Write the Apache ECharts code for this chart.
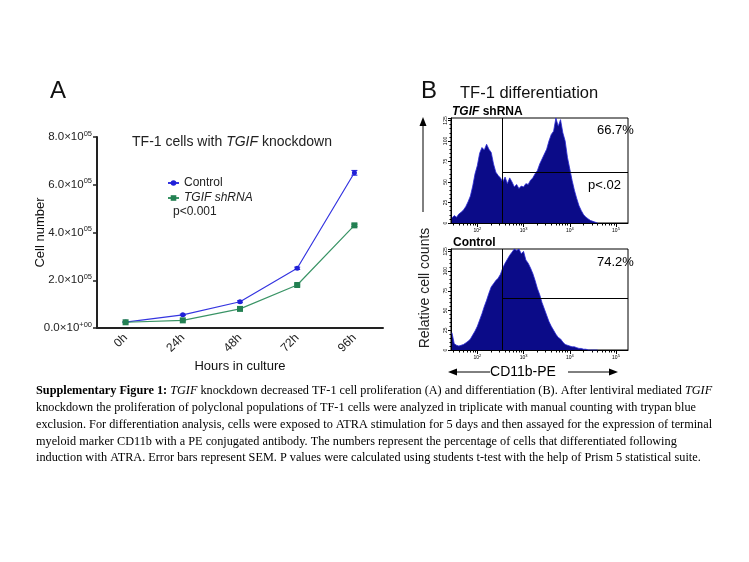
<!DOCTYPE html>
<html><head><meta charset="utf-8">
<script src="https://cdn.jsdelivr.net/npm/echarts@6/dist/echarts.min.js"></script>
<style>html,body{margin:0;padding:0;background:#fff}#c{width:749px;height:562px}</style>
</head><body><div id="c"></div>
<script>
// ---------- Panel A data ----------
const hours = ['0h', '24h', '48h', '72h', '96h'];
const controlMean = [25000, 55000, 110000, 250000, 650000];
const controlSem = [2000, 3000, 4000, 5000, 10000];
const tgifMean = [24000, 32000, 80000, 180000, 430000];
const tgifSem = [2000, 2000, 5000, 4000, 5000];
const yTickValues = [0, 200000, 400000, 600000, 800000];
const yMantissa = ['0.0', '2.0', '4.0', '6.0', '8.0'];
const yExponent = ['+00', '05', '05', '05', '05'];

// ---------- Panel B data (log10 of CD11b-PE fluorescence, cell counts) ----------
const binLog = [1.45,1.50,1.55,1.60,1.65,1.70,1.75,1.80,1.85,1.90,1.95,2.00,2.05,2.10,2.15,2.20,2.25,2.30,2.35,2.40,
  2.45,2.50,2.55,2.60,2.65,2.70,2.75,2.80,2.85,2.90,2.95,3.00,3.05,3.10,3.15,3.20,3.25,3.30,3.35,3.40,
  3.45,3.50,3.55,3.60,3.65,3.70,3.75,3.80,3.85,3.90,3.95,4.00,4.05,4.10,4.15,4.20,4.25,4.30,4.35,4.40,
  4.45,4.50,4.55,4.60];
const shrnaCounts = [6,9,7,11,13,16,20,26,33,45,60,70,85,92,89,96,90,86,72,62,
  58,55,50,56,48,55,50,44,47,42,45,44,48,47,52,55,60,64,72,78,
  84,90,100,108,112,128,118,126,110,100,80,66,52,40,30,21,15,10,7,5,
  3,2,1,0];
const controlCounts = [22,8,6,5,6,7,9,11,14,19,24,30,38,46,55,63,72,80,84,88,
  91,96,104,110,115,120,124,128,126,128,122,125,114,110,104,97,88,78,70,60,
  52,44,36,30,25,20,16,14,10,7,6,5,4,4,3,2,2,1,1,0,
  0,0,0,0];
const decades = [2, 3, 4, 5];
const decadeLabels = ['2', '3', '4', '5'];
const histYTicks = [0, 25, 50, 75, 100, 125];
const gateLog = 2.54;
const shrnaGateCount = 62;
const controlGateCount = 65;
const shrnaPercent = '66.7%';
const controlPercent = '74.2%';
const pValueB = 'p<.02';
const pValueA = 'p<0.001';

const SANS = 'Liberation Sans, Arial, Helvetica, sans-serif';
const SERIF = 'Liberation Serif, Times New Roman, serif';

const minorLogs = [];
for (let n = 1; n <= 5; n++) for (let k = 2; k <= 9; k++) {
  const v = Math.log10(k * Math.pow(10, n));
  if (v > 1.43 && v < 5.26) minorLogs.push(v);
}

const chart = echarts.init(document.getElementById('c'), null, {renderer: 'canvas'});

function errorBarSeries(means, sems, color) {
  return {
    type: 'custom', xAxisIndex: 0, yAxisIndex: 0, z: 3, silent: true,
    data: means.map((m, i) => [i, m, sems[i]]),
    renderItem: function (params, api) {
      const i = api.value(0), m = api.value(1), s = api.value(2);
      const hi = api.coord([i, m + s]), lo = api.coord([i, m - s]);
      const w = 3;
      return {type: 'group', children: [
        {type: 'line', shape: {x1: hi[0], y1: hi[1], x2: lo[0], y2: lo[1]}, style: {stroke: color, lineWidth: 1}},
        {type: 'line', shape: {x1: hi[0] - w, y1: hi[1], x2: hi[0] + w, y2: hi[1]}, style: {stroke: color, lineWidth: 1}},
        {type: 'line', shape: {x1: lo[0] - w, y1: lo[1], x2: lo[0] + w, y2: lo[1]}, style: {stroke: color, lineWidth: 1}}
      ]};
    }
  };
}

function histSeries(counts, xIdx, yIdx, gateCount) {
  return {
    type: 'line', xAxisIndex: xIdx, yAxisIndex: yIdx, symbol: 'none', silent: true,
    data: binLog.map((l, i) => [l, counts[i]]),
    lineStyle: {color: '#2a2ad6', width: 0.8},
    areaStyle: {color: '#0b0b88', opacity: 1},
    clip: true,
    markLine: {
      silent: true, symbol: 'none', animation: false,
      lineStyle: {color: '#000', width: 1, type: 'solid'},
      label: {show: false},
      data: [
        [{coord: [gateLog, 0]}, {coord: [gateLog, 128]}],
        [{coord: [gateLog, gateCount]}, {coord: [5.26, gateCount]}]
      ]
    },
    markPoint: {
      silent: true, symbol: 'none', animation: false,
      label: {show: true, formatter: 'P5', fontSize: 5, color: '#000', fontFamily: SANS, position: 'inside'},
      data: [{coord: [4.24, gateCount]}]
    }
  };
}

function histXAxis(gridIndex) {
  return [{
    type: 'value', gridIndex: gridIndex, min: 1.43, max: 5.26, position: 'bottom',
    axisLine: {show: true, onZero: false, lineStyle: {color: '#000', width: 1}},
    splitLine: {show: false},
    axisTick: {show: true, customValues: decades, length: 4, lineStyle: {color: '#000'}},
    axisLabel: {
      show: true, customValues: decades, margin: 4, fontSize: 5, color: '#000', fontFamily: SANS,
      formatter: v => '{b|10}{s|' + decadeLabels[decades.indexOf(Math.round(v))] + '}',
      rich: {b: {fontSize: 5, fontFamily: SANS}, s: {fontSize: 4, fontFamily: SANS, padding: [0, 0, 4, 0]}}
    }
  }, {
    type: 'value', gridIndex: gridIndex, min: 1.43, max: 5.26, position: 'bottom',
    axisLine: {show: false, onZero: false},
    splitLine: {show: false},
    axisTick: {show: true, customValues: minorLogs, length: 2.5, lineStyle: {color: '#000'}},
    axisLabel: {show: false}
  }];
}

function histYAxis(gridIndex) {
  return {
    type: 'value', gridIndex: gridIndex, min: 0, max: 128, interval: 25,
    axisLine: {show: true, lineStyle: {color: '#000', width: 1}},
    axisTick: {show: true, length: 3, lineStyle: {color: '#000'}},
    minorTick: {show: true, splitNumber: 5, length: 1.5, lineStyle: {color: '#000'}},
    splitLine: {show: false},
    axisLabel: {show: true, rotate: 90, fontSize: 5, color: '#000', margin: 3, fontFamily: SANS,
      formatter: v => histYTicks.indexOf(v) >= 0 ? String(v) : ''}
  };
}

function txt(x, y, text, opts) {
  return {type: 'text', x: x, y: y, silent: true,
    style: Object.assign({text: text, fill: '#111', fontFamily: SANS, fontSize: 13}, opts || {})};
}

const CAP = 12.25;
const captionRich = {
  b: {fontWeight: 'bold', fontFamily: SERIF, fontSize: CAP, fill: '#000'},
  i: {fontStyle: 'italic', fontFamily: SERIF, fontSize: CAP, fill: '#000'},
  n: {fontFamily: SERIF, fontSize: CAP, fill: '#000'}
};
const captionLines = [
  '{b|Supplementary Figure 1:} {i|TGIF}{n| knockdown decreased TF-1 cell proliferation (A) and differentiation (B). After lentiviral mediated }{i|TGIF}',
  '{n|knockdown the proliferation of polyclonal populations of TF-1 cells were analyzed in triplicate with manual counting with trypan blue}',
  '{n|exclusion. For differentiation analysis, cells were exposed to ATRA stimulation for 5 days and then assayed for the expression of terminal}',
  '{n|myeloid marker CD11b with a PE conjugated antibody. The numbers represent the percentage of cells that differentiated following}',
  '{n|induction with ATRA. Error bars represent SEM. P values were calculated using students t-test with the help of Prism 5 statistical suite.}'
];

const graphics = [
  txt(50, 79, 'A', {fontSize: 24}),
  txt(232, 142, '{n|TF-1 cells with }{i|TGIF}{n| knockdown}', {align: 'center', verticalAlign: 'middle',
    rich: {n: {fontSize: 14, fontFamily: SANS, fill: '#222'}, i: {fontSize: 14, fontFamily: SANS, fontStyle: 'italic', fill: '#222'}}}),
  txt(173, 212, pValueA, {fontSize: 12, verticalAlign: 'middle', fill: '#222'}),
  txt(421, 79, 'B', {fontSize: 24}),
  txt(460, 93, 'TF-1 differentiation', {fontSize: 16.5, verticalAlign: 'middle'}),
  txt(452, 112, '{i|TGIF}{b| shRNA}', {verticalAlign: 'middle',
    rich: {i: {fontSize: 12, fontFamily: SANS, fontWeight: 'bold', fontStyle: 'italic', fill: '#000'},
           b: {fontSize: 12, fontFamily: SANS, fontWeight: 'bold', fill: '#000'}}}),
  txt(453, 243, 'Control', {fontSize: 12, fontWeight: 'bold', verticalAlign: 'middle', fill: '#000'}),
  txt(597, 130, shrnaPercent, {fontSize: 13, verticalAlign: 'middle', fill: '#000'}),
  txt(588, 185, pValueB, {fontSize: 13, verticalAlign: 'middle', fill: '#000'}),
  txt(597, 262, controlPercent, {fontSize: 13, verticalAlign: 'middle', fill: '#000'}),
  {type: 'text', x: 425, y: 288, rotation: Math.PI / 2, silent: true,
    style: {text: 'Relative cell counts', fontSize: 14, fontFamily: SANS, fill: '#222', align: 'center', verticalAlign: 'middle'}},
  txt(523, 372, 'CD11b-PE', {fontSize: 14, align: 'center', verticalAlign: 'middle', fill: '#000'}),
  // arrows
  {type: 'line', silent: true, shape: {x1: 423, y1: 212, x2: 423, y2: 124}, style: {stroke: '#000', lineWidth: 1}},
  {type: 'polygon', silent: true, shape: {points: [[423, 117], [419.5, 126], [426.5, 126]]}, style: {fill: '#000'}},
  {type: 'line', silent: true, shape: {x1: 490, y1: 372, x2: 455, y2: 372}, style: {stroke: '#000', lineWidth: 1}},
  {type: 'polygon', silent: true, shape: {points: [[448, 372], [457, 368.5], [457, 375.5]]}, style: {fill: '#000'}},
  {type: 'line', silent: true, shape: {x1: 568, y1: 372, x2: 611, y2: 372}, style: {stroke: '#000', lineWidth: 1}},
  {type: 'polygon', silent: true, shape: {points: [[618, 372], [609, 368.5], [609, 375.5]]}, style: {fill: '#000'}}
];
captionLines.forEach((line, i) => {
  graphics.push({type: 'text', x: 36, y: 391 + i * 16.8, silent: true,
    style: {text: line, rich: captionRich, verticalAlign: 'middle', fontFamily: SERIF, fontSize: CAP, fill: '#000'}});
});

const option = {
  animation: false,
  backgroundColor: '#fff',
  grid: [
    {left: 97, top: 137, width: 286, height: 191},
    {left: 451, top: 118, width: 177, height: 105, show: true, borderColor: '#000', borderWidth: 1, backgroundColor: 'transparent'},
    {left: 451, top: 249, width: 177, height: 101, show: true, borderColor: '#000', borderWidth: 1, backgroundColor: 'transparent'}
  ],
  legend: {
    orient: 'vertical', left: 162, top: 172, itemGap: 3, itemWidth: 11, itemHeight: 7,
    data: ['Control', 'TGIF shRNA'],
    textStyle: {fontSize: 12, fontFamily: SANS, color: '#222', rich: {i: {fontStyle: 'italic', fontSize: 12, fontFamily: SANS, color: '#222'}}},
    formatter: name => name === 'TGIF shRNA' ? '{i|TGIF shRNA}' : name
  },
  xAxis: [
    {
      type: 'category', gridIndex: 0, data: hours, boundaryGap: true,
      axisLine: {lineStyle: {color: '#222', width: 2}},
      axisTick: {alignWithLabel: true, length: 5, lineStyle: {color: '#222', width: 1.5}},
      axisLabel: {rotate: 45, fontSize: 12, color: '#222', fontFamily: SANS, margin: 8},
      name: 'Hours in culture', nameLocation: 'middle', nameGap: 32, nameMoveOverlap: false,
      nameTextStyle: {fontSize: 13, color: '#111', fontFamily: SANS}
    },
    ...histXAxis(1),
    ...histXAxis(2)
  ],
  yAxis: [
    {
      type: 'value', gridIndex: 0, min: 0, max: 800000, interval: 200000,
      axisLine: {show: true, lineStyle: {color: '#222', width: 2}},
      axisTick: {show: true, length: 4, lineStyle: {color: '#222', width: 1.5}},
      splitLine: {show: false},
      axisLabel: {
        margin: 5, color: '#222', fontFamily: SANS,
        formatter: v => {
          const k = yTickValues.indexOf(v);
          return '{m|' + yMantissa[k] + '×10}{e|' + yExponent[k] + '}';
        },
        rich: {m: {fontSize: 11.5, fontFamily: SANS, color: '#222'},
               e: {fontSize: 7.5, fontFamily: SANS, color: '#222', padding: [0, 0, 7, 0]}}
      },
      name: 'Cell number', nameLocation: 'middle', nameGap: 50, nameRotate: 90, nameMoveOverlap: false,
      nameTextStyle: {fontSize: 13, color: '#111', fontFamily: SANS}
    },
    histYAxis(1),
    histYAxis(2)
  ],
  series: [
    {
      name: 'Control', type: 'line', xAxisIndex: 0, yAxisIndex: 0, data: controlMean,
      symbol: 'circle', symbolSize: 5, color: '#3030e0',
      lineStyle: {color: '#3535e0', width: 1.2}, itemStyle: {color: '#2020d8'}, z: 4
    },
    {
      name: 'TGIF shRNA', type: 'line', xAxisIndex: 0, yAxisIndex: 0, data: tgifMean,
      symbol: 'rect', symbolSize: 6, color: '#2e8b5a',
      lineStyle: {color: '#3a9466', width: 1.2}, itemStyle: {color: '#238052'}, z: 4
    },
    errorBarSeries(controlMean, controlSem, '#2020d8'),
    errorBarSeries(tgifMean, tgifSem, '#238052'),
    histSeries(shrnaCounts, 1, 1, shrnaGateCount),
    histSeries(controlCounts, 3, 2, controlGateCount)
  ],
  graphic: graphics
};
chart.setOption(option);
</script>
</body></html>
